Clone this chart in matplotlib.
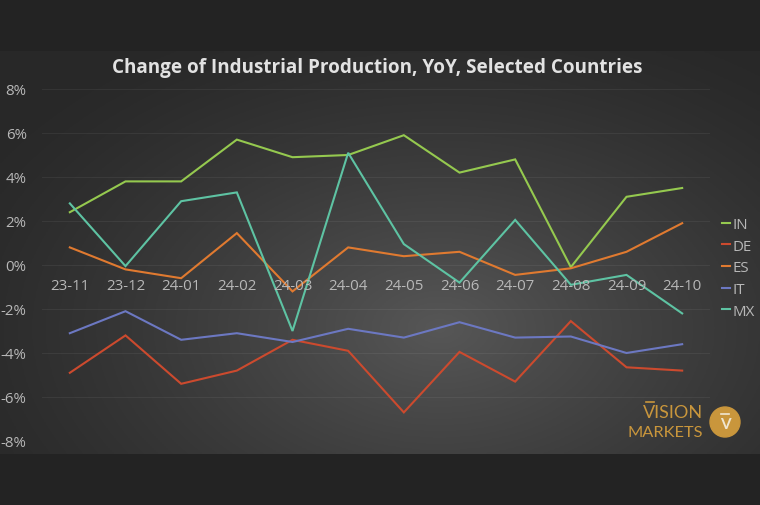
import numpy as np
import matplotlib
matplotlib.use("Agg")
import matplotlib.pyplot as plt
from matplotlib.patches import Ellipse
from matplotlib.lines import Line2D

categories = ["23-11", "23-12", "24-01", "24-02", "24-03", "24-04",
              "24-05", "24-06", "24-07", "24-08", "24-09", "24-10"]
IN = [2.4, 3.8, 3.8, 5.7, 4.9, 5.0, 5.9, 4.2, 4.8, -0.1, 3.1, 3.5]
DE = [-4.9, -3.2, -5.4, -4.8, -3.4, -3.9, -6.7, -3.95, -5.3, -2.55, -4.65, -4.8]
ES = [0.8, -0.2, -0.6, 1.45, -1.2, 0.8, 0.4, 0.6, -0.45, -0.15, 0.6, 1.9]
IT = [-3.1, -2.1, -3.4, -3.1, -3.5, -2.9, -3.3, -2.6, -3.3, -3.25, -4.0, -3.6]
MX = [2.8, -0.05, 2.9, 3.3, -3.0, 5.1, 0.95, -0.8, 2.05, -0.9, -0.45, -2.2]
series = [("IN", IN, "#95c94f"), ("DE", DE, "#cc4a2e"), ("ES", ES, "#e07a30"),
          ("IT", IT, "#6c78c2"), ("MX", MX, "#5ec3a3")]
yticks = [-8, -6, -4, -2, 0, 2, 4, 6, 8]

W, H = 760, 506
fig = plt.figure(figsize=(7.6, 5.06), dpi=100, facecolor="#232323")

# gradient panel
pan_top, pan_bot = 52, 455
bg = fig.add_axes([0, 1 - pan_bot / H, 1, (pan_bot - pan_top) / H])
bg.set_axis_off()
xx, yy = np.meshgrid(np.linspace(0, W, 380), np.linspace(pan_top, pan_bot, 200))
cx, cy = 440, 330
r = np.sqrt(((xx - cx) / 520) ** 2 + ((yy - cy) / 330) ** 2)
v = np.clip(1 - r, 0, 1)
val = 0.16 + 0.18 * v ** 1.3
img = np.dstack([val, val, val])
bg.imshow(img, extent=[0, 1, 0, 1], aspect="auto", origin="upper")
bg.set_xlim(0, 1); bg.set_ylim(0, 1)

ax = fig.add_axes([42 / W, 1 - 442 / H, (710 - 42) / W, (442 - 90) / H])
ax.patch.set_alpha(0)
x = np.arange(len(categories))
for name, vals, col in series:
    ax.plot(x, vals, color=col, lw=1.5, label=name, solid_joinstyle="miter")
ax.set_xlim(-0.5, len(categories) - 0.5)
ax.set_ylim(-8, 8)
ax.set_yticks(yticks)
ax.set_yticklabels([f"{t}%" for t in yticks])
for t in yticks:
    ax.axhline(t, color="white", alpha=0.06, lw=0.8, zorder=0)
ax.tick_params(axis="y", length=0, pad=11, labelsize=10.8, labelcolor="#b8b8b8")
ax.set_xticks([])
for s in ax.spines.values():
    s.set_visible(False)
for i, c in enumerate(categories):
    ax.annotate(c, xy=(i, 0), xytext=(0, -15), textcoords="offset points",
                ha="center", va="center", fontsize=10.8, color="#b8b8b8",
                family="Open Sans")
for lab in ax.get_yticklabels():
    lab.set_family("Open Sans")

leg = ax.legend(loc="center left", bbox_to_anchor=(1.0, 0.492),
                frameon=False, handlelength=0.55, handletextpad=0.12,
                labelspacing=0.44, borderaxespad=0.4,
                prop={"family": "Open Sans", "size": 10.8})
for t in leg.get_texts():
    t.set_color("#b8b8b8")

fig.text(377 / W, 1 - 68 / H, "Change of Industrial Production, YoY, Selected Countries",
         ha="center", va="center", fontsize=13.6, fontweight="bold",
         color="#e2e2e2", family="Open Sans")

# logo
gold = "#c9963c"
fig.text(703 / W, 1 - 413 / H, "VISION", ha="right", va="center", fontsize=13,
         color=gold, family="Lato")
fig.text(703 / W, 1 - 433 / H, "MARKETS", ha="right", va="center", fontsize=11.8,
         color=gold, family="Lato")
fig.add_artist(Line2D([646 / W, 654 / W], [1 - 403 / H, 1 - 403 / H],
                      color=gold, lw=1.2, transform=fig.transFigure))
circ = Ellipse((725 / W, 1 - 423 / H), 30 / W, 30 / H, transform=fig.transFigure,
               color=gold)
fig.add_artist(circ)
fig.text(725 / W, 1 - 425 / H, "V", ha="center", va="center", fontsize=11,
         color="#f0e6d0", family="Lato", fontweight="bold")
fig.add_artist(Line2D([721 / W, 729 / W], [1 - 415 / H, 1 - 415 / H],
                      color="#f0e6d0", lw=1.2, transform=fig.transFigure))

fig.savefig("out.png", dpi=100, facecolor=fig.get_facecolor())
